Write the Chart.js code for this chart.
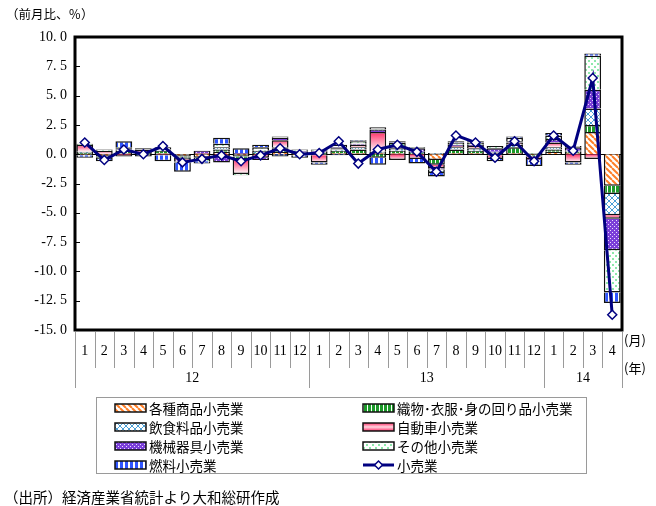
<!DOCTYPE html>
<html>
<head>
<meta charset="utf-8">
<script src="https://cdn.jsdelivr.net/npm/chart.js@4/dist/chart.umd.min.js"></script>
<style>
  html, body { margin: 0; padding: 0; background: #fff; }
</style>
</head>
<body>
<canvas id="chart" width="656" height="506"></canvas>
<script>
// month labels (2012/1 .. 2014/4) and year groups
const months = ['1','2','3','4','5','6','7','8','9','10','11','12',
                '1','2','3','4','5','6','7','8','9','10','11','12',
                '1','2','3','4'];
const yearLabels = ['12', '13', '14'];
const yearSpans = [12, 12, 4];

// contributions by industry (%pt)
const kakushu   = [-0.1,-0.2, 0.1, 0.0, 0.1,-0.2,-0.3, 0.2,-0.2, 0.0, 0.2,-0.1,
                   -0.1, 0.1, 0.1, 0.1, 0.1, 0.0,-0.5, 0.1, 0.1, 0.1, 0.1,-0.1,
                    0.2, 0.1, 1.9,-2.7];
const orimono   = [ 0.1,-0.1, 0.2, 0.1, 0.2,-0.1,-0.2, 0.2,-0.2, 0.1, 0.3, 0.1,
                    0.1, 0.2, 0.3,-0.3, 0.2, 0.1,-0.4, 0.3, 0.2,-0.1, 0.5,-0.1,
                    0.2, 0.1, 0.6,-0.7];
const inshoku   = [ 0.1,-0.1, 0.1, 0.0, 0.1,-0.1, 0.0, 0.2, 0.0, 0.2, 0.1, 0.1,
                    0.1, 0.1, 0.2, 0.1, 0.2, 0.1, 0.1, 0.2, 0.2, 0.1, 0.2, 0.0,
                    0.2, 0.1, 1.4,-1.8];
const jidosha   = [ 0.6, 0.3,-0.2, 0.3,-0.1,-0.1, 0.1,-0.2,-1.3,-0.3, 0.6, 0.0,
                   -0.6, 0.1, 0.2, 1.7,-0.5,-0.4,-0.3, 0.1, 0.2,-0.3, 0.2,-0.2,
                    0.4,-0.7,-0.4,-0.3];
const kikai     = [ 0.0, 0.0, 0.1, 0.0, 0.0,-0.1, 0.2,-0.5, 0.1,-0.2, 0.2, 0.1,
                    0.1, 0.1, 0.1, 0.2, 0.1, 0.3,-0.1, 0.1, 0.1, 0.3, 0.1,-0.1,
                    0.3, 0.3, 1.6,-2.7];
const sonota    = [ 0.1, 0.1, 0.1, 0.1, 0.2,-0.1,-0.1, 0.3,-0.1, 0.3, 0.1, 0.1,
                    0.1, 0.2, 0.2, 0.2, 0.4, 0.1,-0.3, 0.2, 0.2, 0.2, 0.3, 0.1,
                    0.3, 0.1, 2.9,-3.6];
const nenryo    = [-0.2,-0.2, 0.5,-0.2,-0.5,-0.8,-0.2, 0.5, 0.4, 0.2,-0.2,-0.2,
                   -0.2,-0.1, 0.1,-0.6, 0.1,-0.4,-0.3, 0.1, 0.1,-0.2, 0.1,-0.5,
                    0.2,-0.2, 0.2,-0.9];
// retail total, month-on-month %
const kouri     = [ 1.0,-0.5, 0.4, 0.0, 0.7,-0.7,-0.4,-0.1,-0.6,-0.1, 0.5, 0.0,
                    0.1, 1.1,-0.8, 0.4, 0.8, 0.2,-1.5, 1.6, 1.0,-0.3, 1.1,-0.6,
                    1.6, 0.3, 6.5,-13.7];

const barSeries = [kakushu, orimono, inshoku, jidosha, kikai, sonota, nenryo];
const barNames = ['各種商品小売業', '織物･衣服･身の回り品小売業', '飲食料品小売業', '自動車小売業',
                  '機械器具小売業', 'その他小売業', '燃料小売業'];
const lineName = '小売業';

const serif = '"Liberation Serif", "DejaVu Serif", "Noto Sans CJK JP", serif';
const gothic = '"Noto Sans CJK JP", sans-serif';

// small repeating fills
function makePattern(w, h, draw) {
    const cv = document.createElement('canvas');
    cv.width = w; cv.height = h;
    const g = cv.getContext('2d');
    draw(g);
    return g.createPattern(cv, 'repeat');
}

const fills = [
    makePattern(6, 6, g => {
        g.fillStyle = '#fff'; g.fillRect(0, 0, 6, 6);
        g.strokeStyle = '#ff7f27'; g.lineWidth = 2;
        [-6, 0, 6].forEach(k => { g.beginPath(); g.moveTo(k, 0); g.lineTo(k + 6, 6); g.stroke(); });
    }),
    makePattern(4, 4, g => {
        g.fillStyle = '#fff'; g.fillRect(0, 0, 4, 4);
        g.fillStyle = '#1d9a2a'; g.fillRect(0, 0, 3, 4);
    }),
    makePattern(6, 6, g => {
        g.fillStyle = '#fff'; g.fillRect(0, 0, 6, 6);
        g.strokeStyle = '#4a9fd6'; g.lineWidth = 1;
        [-6, 0, 6].forEach(k => {
            g.beginPath(); g.moveTo(k, 0); g.lineTo(k + 6, 6); g.stroke();
            g.beginPath(); g.moveTo(k + 6, 0); g.lineTo(k, 6); g.stroke();
        });
    }),
    null, // gradient, set per bar
    makePattern(4, 4, g => {
        g.fillStyle = '#7b3fd9'; g.fillRect(0, 0, 4, 4);
        g.fillStyle = '#e8dcff'; g.fillRect(0, 0, 1, 1); g.fillRect(2, 2, 1, 1);
    }),
    makePattern(6, 6, g => {
        g.fillStyle = '#fff'; g.fillRect(0, 0, 6, 6);
        g.fillStyle = '#8de8aa'; g.fillRect(0, 0, 2, 2); g.fillRect(3, 3, 2, 2);
    }),
    makePattern(5, 5, g => {
        g.fillStyle = '#fff'; g.fillRect(0, 0, 5, 5);
        g.fillStyle = '#2f55ff'; g.fillRect(0, 0, 3, 5);
    })
];

// start/end of a stacked bar, to place the pink gradient
function barRange(d, i) {
    const v = barSeries[d][i];
    let base = 0;
    for (let k = 0; k < d; k++) {
        const u = barSeries[k][i];
        if ((u < 0) === (v < 0)) base += u;
    }
    return [base, base + v];
}

function pinkFill(c) {
    if (c.type !== 'data' || !c.chart.scales.y) return '#ff9db3';
    const y = c.chart.scales.y;
    const r = barRange(3, c.dataIndex);
    const top = y.getPixelForValue(Math.max(r[0], r[1]));
    const bot = y.getPixelForValue(Math.min(r[0], r[1]));
    if (!isFinite(top) || !isFinite(bot) || top === bot) return '#ff9db3';
    const grad = c.chart.ctx.createLinearGradient(0, top, 0, bot);
    grad.addColorStop(0, '#ff2f68');
    grad.addColorStop(1, '#ffffff');
    return grad;
}

const datasets = barSeries.map((data, d) => ({
    type: 'bar',
    label: barNames[d],
    data: data,
    backgroundColor: d === 3 ? pinkFill : fills[d],
    borderColor: '#111',
    borderWidth: 1.5,
    barPercentage: 0.86,
    categoryPercentage: 1,
    stack: 'contrib',
    order: 1
}));
datasets.push({
    type: 'line',
    label: lineName,
    data: kouri,
    borderColor: '#000080',
    borderWidth: 3,
    pointStyle: 'rectRot',
    pointRadius: 4.5,
    pointBackgroundColor: '#fff',
    pointBorderColor: '#000080',
    pointBorderWidth: 1.5,
    tension: 0,
    stack: 'total',
    order: 0
});

// zero line, frame, inner ticks, category axis, legend and notes
const decorations = {
    id: 'decorations',
    beforeDatasetsDraw(chart) {
        const { ctx, chartArea: a, scales: { y } } = chart;
        const y0 = Math.round(y.getPixelForValue(0)) + 0.5;
        ctx.save();
        ctx.strokeStyle = '#000';
        ctx.lineWidth = 1;
        ctx.beginPath(); ctx.moveTo(a.left, y0); ctx.lineTo(a.right, y0); ctx.stroke();
        ctx.restore();
    },
    afterDraw(chart) {
        const { ctx, chartArea: a, scales: { x, y } } = chart;
        ctx.save();

        // inner tick marks
        ctx.strokeStyle = '#000';
        ctx.lineWidth = 1;
        y.ticks.forEach(t => {
            const py = Math.round(y.getPixelForValue(t.value)) + 0.5;
            ctx.beginPath(); ctx.moveTo(a.left, py); ctx.lineTo(a.left + 5, py); ctx.stroke();
        });

        // plot frame
        ctx.lineWidth = 3;
        ctx.strokeRect(a.left, a.top, a.right - a.left, a.bottom - a.top);

        // category axis: months and years
        const w = (a.right - a.left) / months.length;
        ctx.strokeStyle = '#9a9a9a';
        ctx.lineWidth = 1;
        for (let i = 0; i <= months.length; i++) {
            const px = Math.round(a.left + i * w) + 0.5;
            ctx.beginPath(); ctx.moveTo(px, a.bottom + 2); ctx.lineTo(px, a.bottom + 38); ctx.stroke();
        }
        let acc = 0;
        [0].concat(yearSpans).forEach(n => {
            acc += n;
            const px = Math.round(a.left + acc * w) + 0.5;
            ctx.beginPath(); ctx.moveTo(px, a.bottom + 2); ctx.lineTo(px, a.bottom + 58); ctx.stroke();
        });

        ctx.fillStyle = '#000';
        ctx.font = '14px ' + serif;
        ctx.textAlign = 'center';
        ctx.textBaseline = 'middle';
        months.forEach((m, i) => ctx.fillText(m, x.getPixelForValue(i), a.bottom + 21));
        acc = 0;
        yearLabels.forEach((lab, k) => {
            const cx = a.left + (acc + yearSpans[k] / 2) * w;
            ctx.fillText(lab, cx, a.bottom + 48);
            acc += yearSpans[k];
        });
        ctx.font = '13px ' + gothic;
        ctx.textAlign = 'left';
        ctx.fillText('(月)', a.right + 2, a.bottom + 10);
        ctx.fillText('(年)', a.right + 2, a.bottom + 38);

        // unit and source
        ctx.font = '12.5px ' + gothic;
        ctx.fillText('（前月比、％）', 6, 14);
        ctx.font = '14.5px ' + gothic;
        ctx.fillText('（出所）経済産業省統計より大和総研作成', 4, 497);

        // legend
        ctx.strokeStyle = '#9a9a9a';
        ctx.lineWidth = 1;
        ctx.strokeRect(96.5, 397.5, 490, 76);
        const cols = [115, 363];
        const rows = [408, 427, 446, 465];
        const entries = barNames.map((n, d) => ({ name: n, d: d })).concat([{ name: lineName, d: -1 }]);
        ctx.font = '13.5px ' + gothic;
        entries.forEach((e, k) => {
            const sx = cols[k % 2], sy = rows[Math.floor(k / 2)];
            if (e.d >= 0) {
                let f = fills[e.d];
                if (e.d === 3) {
                    f = ctx.createLinearGradient(0, sy - 4, 0, sy + 4);
                    f.addColorStop(0, '#ff2f68');
                    f.addColorStop(0.5, '#ffd6e0');
                    f.addColorStop(1, '#ff2f68');
                }
                ctx.fillStyle = f;
                ctx.fillRect(sx, sy - 4, 31, 8);
                ctx.strokeStyle = '#111';
                ctx.lineWidth = 1.5;
                ctx.strokeRect(sx, sy - 4, 31, 8);
            } else {
                ctx.strokeStyle = '#000080';
                ctx.lineWidth = 3;
                ctx.beginPath(); ctx.moveTo(sx, sy); ctx.lineTo(sx + 31, sy); ctx.stroke();
                ctx.fillStyle = '#fff';
                ctx.lineWidth = 1.5;
                ctx.beginPath();
                ctx.moveTo(sx + 15.5, sy - 4); ctx.lineTo(sx + 19.5, sy);
                ctx.lineTo(sx + 15.5, sy + 4); ctx.lineTo(sx + 11.5, sy);
                ctx.closePath(); ctx.fill(); ctx.stroke();
            }
            ctx.fillStyle = '#000';
            ctx.textAlign = 'left';
            ctx.textBaseline = 'middle';
            ctx.fillText(e.name, sx + 34, sy + 1);
        });
        ctx.restore();
    }
};

new Chart(document.getElementById('chart'), {
    data: { labels: months, datasets: datasets },
    options: {
        responsive: false,
        devicePixelRatio: 1,
        animation: false,
        layout: { padding: { left: 0, top: 37, right: 34, bottom: 176 } },
        plugins: { legend: { display: false }, tooltip: { enabled: false } },
        scales: {
            x: { stacked: true, display: false },
            y: {
                stacked: true,
                min: -15,
                max: 10,
                afterFit: s => { s.width = 75; },
                grid: { display: false, drawTicks: false },
                border: { display: false },
                ticks: {
                    stepSize: 2.5,
                    padding: 8,
                    color: '#000',
                    font: { family: serif, size: 14 },
                    callback: v => v.toFixed(1).replace('.', '. ')
                }
            }
        }
    },
    plugins: [decorations]
});
</script>
</body>
</html>
